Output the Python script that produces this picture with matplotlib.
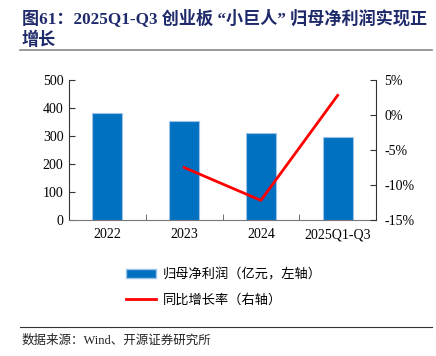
import matplotlib
matplotlib.use("Agg")
import matplotlib.pyplot as plt
from matplotlib.lines import Line2D
from matplotlib.patches import Patch

categories = ["2022", "2023", "2024", "2025Q1-Q3"]
profit = [382, 354, 310, 298]
growth_x = ["2023", "2024", "2025Q1-Q3"]
growth = [-7.5, -12.2, 2.8]
left_ticks = [0, 100, 200, 300, 400, 500]
right_ticks = [-15, -10, -5, 0, 5]

serif = ["Liberation Serif", "Noto Sans CJK SC"]
cjk = ["Noto Sans CJK SC", "DejaVu Sans"]
plt.rcParams['font.family'] = cjk

fig = plt.figure(figsize=(4.36, 3.56), dpi=100)
ax = fig.add_axes([69/436, 1-220/356, (376-69)/436, 140/356])
x = list(range(len(categories)))
ax.bar(x, profit, width=0.39, color="#0070C0", edgecolor="#9DC3E6", linewidth=0.8, zorder=2)
ax.set_xlim(-0.5, 3.5)
ax.set_ylim(0, 500)
ax.set_yticks(left_ticks)
ax.set_yticklabels([str(v) for v in left_ticks], family=serif, fontsize=10)
ax.set_xticks(x)
ax.set_xticklabels(categories, family=serif, fontsize=10)
ax.tick_params(axis='x', length=0, pad=6)
ax.set_xticks([0.5, 1.5, 2.5], minor=True)
ax.tick_params(axis='x', which='minor', direction='in', length=4, color="#555555")
ax.tick_params(axis='y', direction='in', length=4, color="#333333", pad=4)
ax.spines['top'].set_visible(False)
ax.spines['right'].set_visible(False)
ax.spines['bottom'].set_color("#777777")
ax.spines['left'].set_color("#333333")

ax2 = ax.twinx()
gx = [categories.index(c) for c in growth_x]
ax2.plot(gx, growth, color="#FF0000", linewidth=2, zorder=3)
ax2.set_ylim(-15, 5)
ax2.set_yticks(right_ticks)
ax2.set_yticklabels([f"{v}%" for v in right_ticks], family=serif, fontsize=10)
ax2.tick_params(axis='y', direction='in', length=4, color="#333333", pad=6)
for s in ['top', 'left', 'bottom']:
    ax2.spines[s].set_visible(False)
ax2.spines['right'].set_color("#333333")

handles = [Patch(facecolor="#0070C0", edgecolor="#9DC3E6"),
           Line2D([0], [0], color="#FF0000", linewidth=2)]
labels = ["归母净利润（亿元，左轴）", "同比增长率（右轴）"]
fig.legend(handles, labels, loc="upper left", bbox_to_anchor=(114/436, 1-256/356),
           frameon=False, handlelength=2.3, handleheight=0.6, handletextpad=0.5,
           labelspacing=0.95, prop={'family': cjk, 'size': 9.5})

fig.text(22/436, 1-18/356, "图61：2025Q1-Q3 创业板 “小巨人” 归母净利润实现正", fontsize=12.3,
         fontweight='bold', color="#1F2A6B", va='center', family=serif)
fig.text(22/436, 1-40/356, "增长", fontsize=12.3, fontweight='bold', color="#1F2A6B",
         va='center', family=serif)
fig.add_artist(Line2D([20/436, 432/436], [1-50/356, 1-50/356], color="#888888", linewidth=1.2))
fig.add_artist(Line2D([20/436, 432/436], [1-327/356, 1-327/356], color="#333333", linewidth=0.8))
fig.text(22/436, 1-341/356, "数据来源：Wind、开源证券研究所", fontsize=9, color="#222222",
         va='center', family=serif)

fig.savefig("out.png", dpi=100)
